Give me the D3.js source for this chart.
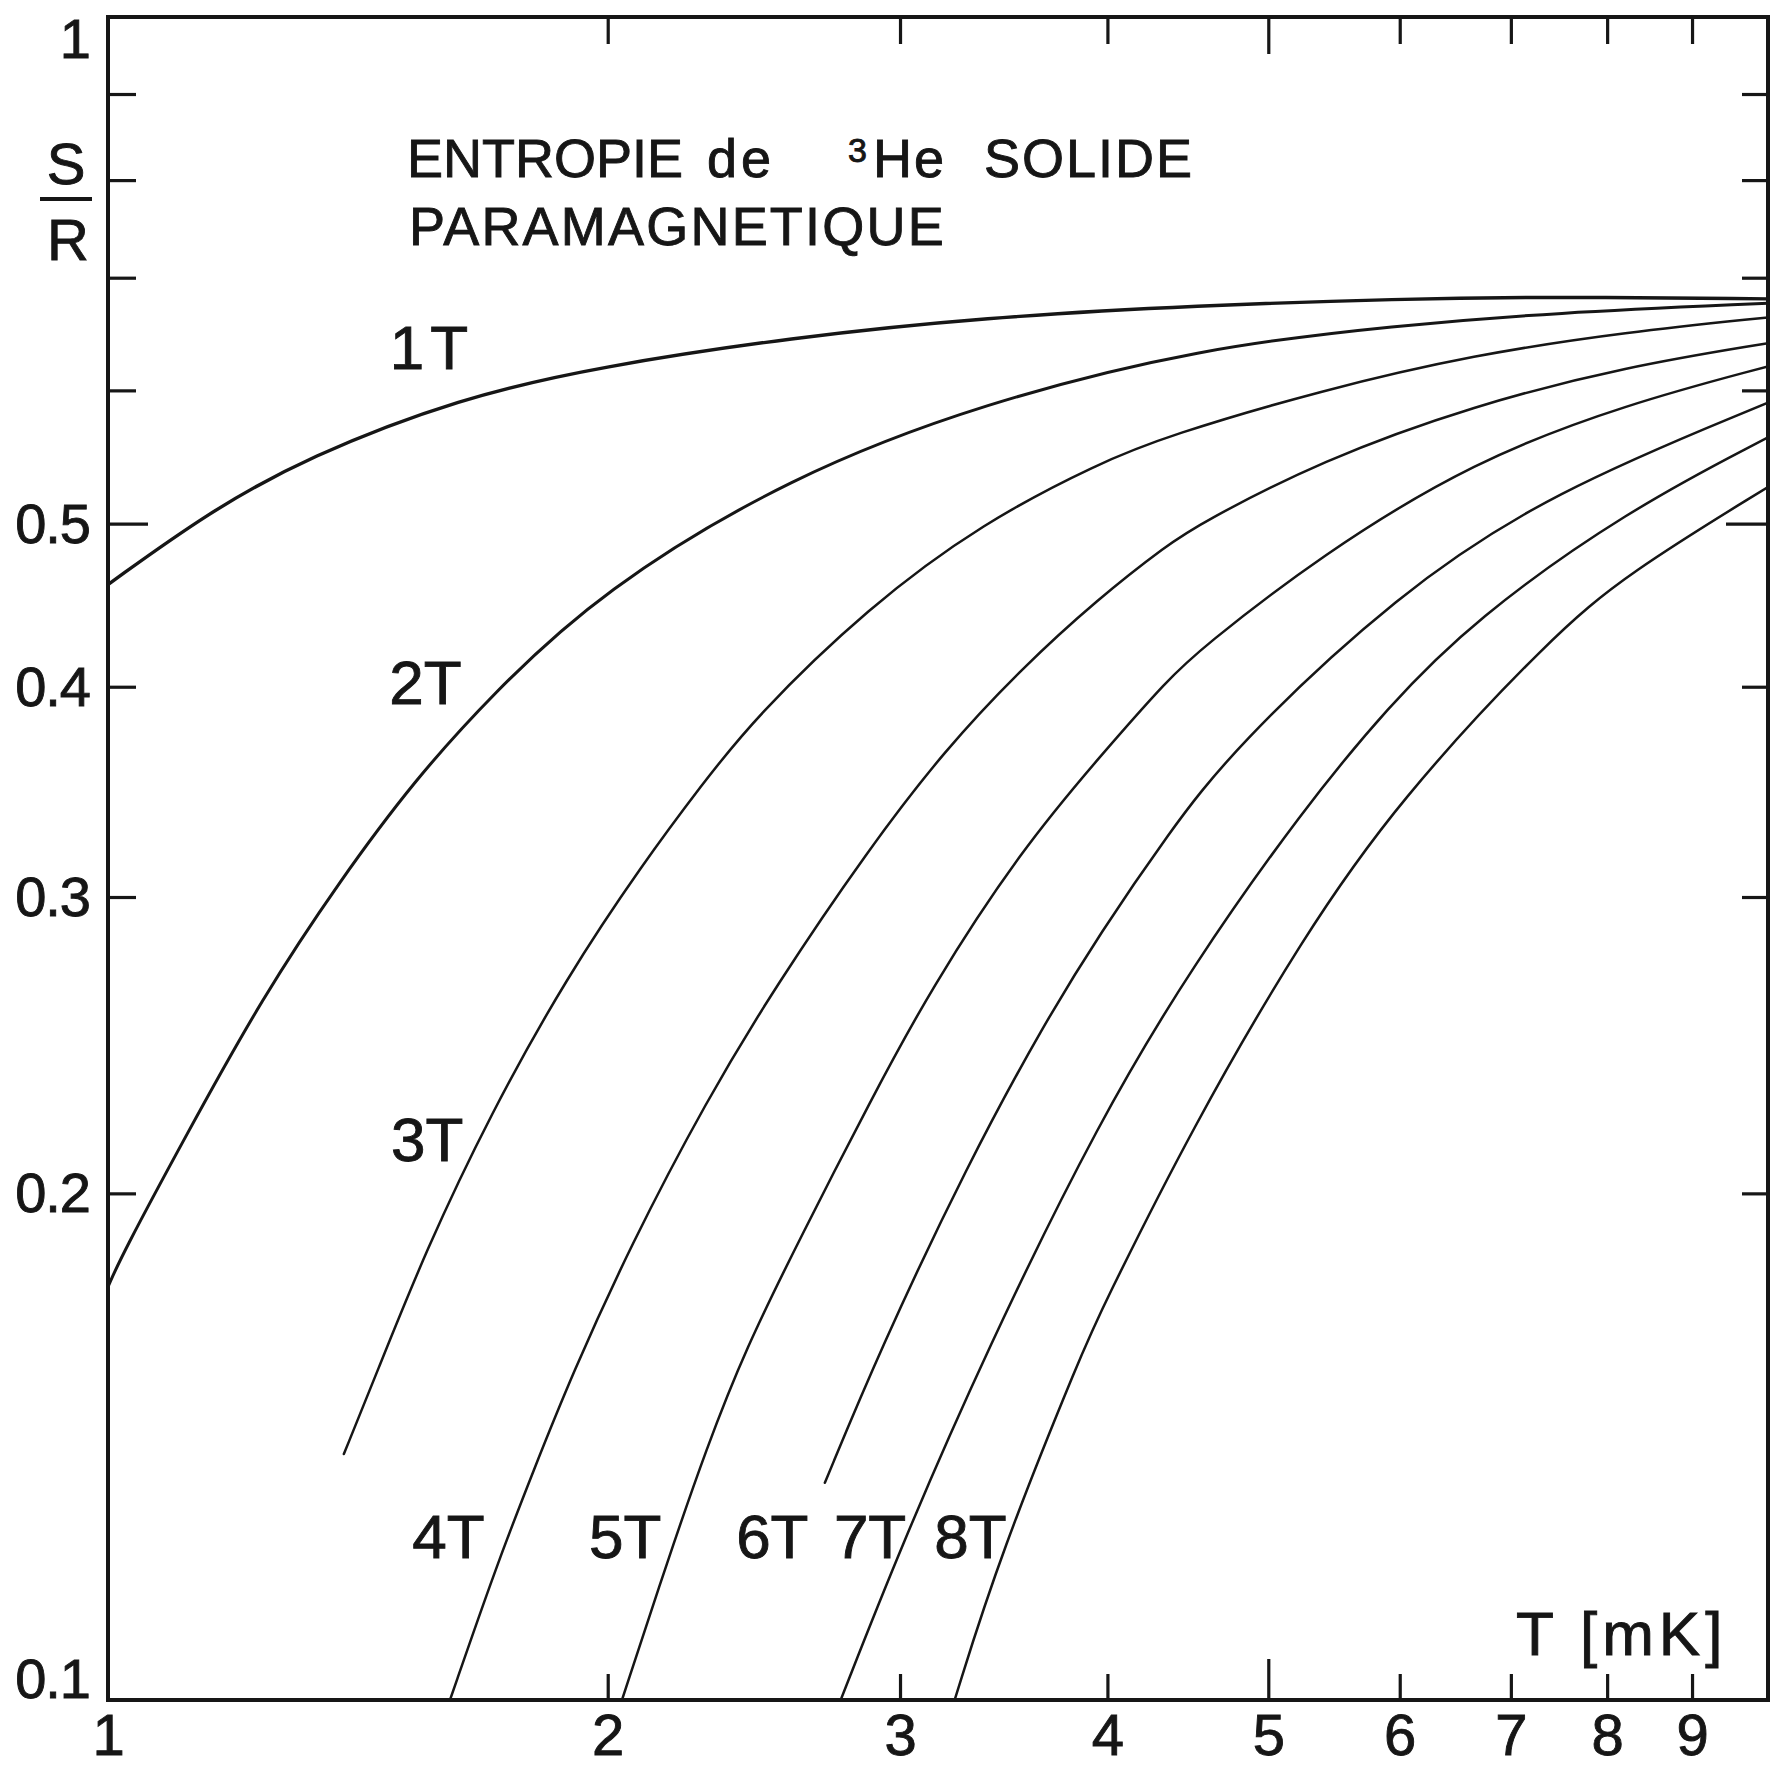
<!DOCTYPE html>
<html>
<head>
<meta charset="utf-8">
<script src="https://cdn.jsdelivr.net/npm/d3@7"></script>
<style>
  body { margin: 0; background: #fff; }
  svg { display: block; }
  text { font-family: "Liberation Sans", Arial, sans-serif; fill: #161616; stroke: #161616; stroke-width: 0.9px; }
</style>
</head>
<body>
<svg id="chart" width="1774" height="1769"></svg>
<script>
const ink = "#161616";

// S/R against T [mK], one list of [T, S/R] per field
const curve1T = [[1.00, 0.460], [1.15, 0.508], [1.32, 0.548], [1.63, 0.594], [1.98, 0.620], [2.58, 0.645],
  [3.37, 0.663], [4.55, 0.674], [6.00, 0.680], [7.40, 0.682], [10.0, 0.680]];
const curve2T = [[1.00, 0.176], [1.02, 0.184], [1.11, 0.215], [1.24, 0.262], [1.38, 0.307], [1.53, 0.352],
  [1.70, 0.395], [1.98, 0.456], [2.58, 0.534], [3.37, 0.590], [4.55, 0.636], [6.00, 0.656], [7.40, 0.667], [10.0, 0.676]];
const curve3T = [[1.387, 0.140], [1.45, 0.156], [1.554, 0.185], [1.70, 0.223], [1.89, 0.269], [2.10, 0.314],
  [2.28, 0.350], [2.45, 0.383], [2.87, 0.446], [3.37, 0.501], [3.95, 0.543], [4.35, 0.564], [5.38, 0.600],
  [6.65, 0.630], [8.23, 0.650], [10.0, 0.663]];
const curve4T = [[1.607, 0.100], [1.713, 0.120], [1.805, 0.137], [1.903, 0.156], [2.063, 0.186], [2.293, 0.227],
  [2.527, 0.266], [2.870, 0.320], [3.193, 0.367], [3.550, 0.410], [3.947, 0.451], [4.351, 0.486], [4.548, 0.500],
  [5.379, 0.545], [6.652, 0.588], [8.226, 0.620], [10.0, 0.640]];
const curve5T = [[2.040, 0.100], [2.175, 0.1213], [2.293, 0.141], [2.420, 0.1615], [2.618, 0.189], [2.881, 0.2272],
  [3.126, 0.264], [3.548, 0.320], [3.991, 0.367], [4.351, 0.404], [4.548, 0.421], [5.379, 0.479], [6.652, 0.545],
  [8.226, 0.589], [10.0, 0.620]];
const curve6T = [[2.703, 0.1346], [2.918, 0.1615], [3.297, 0.2084], [3.665, 0.2524], [3.960, 0.2855], [4.351, 0.327],
  [4.755, 0.367], [5.982, 0.4546], [7.401, 0.522], [10.0, 0.590]];
const curve7T = [[2.763, 0.100], [3.00, 0.123], [3.384, 0.1615], [3.96, 0.2215], [4.50, 0.273], [5.245, 0.338],
  [5.90, 0.389], [6.652, 0.4385], [8.226, 0.509], [10.0, 0.5626]];
const curve8T = [[3.236, 0.100], [3.446, 0.122], [3.868, 0.1615], [3.96, 0.170], [4.50, 0.219], [5.245, 0.284],
  [5.99, 0.3425], [7.401, 0.428], [8.226, 0.467], [10.0, 0.5257]];

const fieldLabels = ["1 T", "2T", "3T", "4T", "5T", "6T", "7T", "8T"];
// where each label starts, in chart units [T, S/R]
const labelAnchors = [[1.478, 0.618], [1.477, 0.3906], [1.481, 0.209], [1.525, 0.1215],
  [1.949, 0.1215], [2.390, 0.1215], [2.737, 0.1215], [3.146, 0.1215]];

const xTicks = [2, 3, 4, 5, 6, 7, 8, 9];
const xTickLabels = [1, 2, 3, 4, 5, 6, 7, 8, 9];
const yTicks = [0.2, 0.3, 0.4, 0.5, 0.6, 0.7, 0.8, 0.9];
const yTickLabels = [1, 0.5, 0.4, 0.3, 0.2, 0.1];

const curves = [curve1T, curve2T, curve3T, curve4T, curve5T, curve6T, curve7T, curve8T]
  .map((points, i) => ({ points, label: fieldLabels[i], at: labelAnchors[i] }));

const W = 1774, H = 1769;
const margin = { top: 17, right: 6, bottom: 69, left: 108 };

const svg = d3.select("#chart");

const x = d3.scaleLog().domain([1, 10]).range([margin.left, W - margin.right]);
const y = d3.scaleLog().domain([0.1, 1]).range([H - margin.bottom, margin.top]);

const [x0, x1] = x.range();
const [y0, y1] = y.range();

svg.append("defs").append("clipPath").attr("id", "plot-clip")
  .append("rect")
  .attr("x", x0).attr("y", y1)
  .attr("width", x1 - x0).attr("height", y0 - y1);

// Tick marks point inwards on all four sides, 5 and 0.5 are longer
const tickStyle = g => {
  g.select(".domain").remove();
  g.selectAll(".tick line").attr("stroke", ink).attr("stroke-width", 3.2);
};

svg.append("g")
  .attr("transform", `translate(0,${y0})`)
  .call(d3.axisTop(x).tickValues(xTicks).tickSize(26).tickFormat(""))
  .call(tickStyle)
  .selectAll(".tick line").attr("y2", d => d === 5 ? -41 : -26);

svg.append("g")
  .attr("transform", `translate(0,${y1})`)
  .call(d3.axisBottom(x).tickValues(xTicks).tickSize(27).tickFormat(""))
  .call(tickStyle)
  .selectAll(".tick line").attr("y2", d => d === 5 ? 37 : 27);

svg.append("g")
  .attr("transform", `translate(${x0},0)`)
  .call(d3.axisRight(y).tickValues(yTicks).tickSize(28).tickFormat(""))
  .call(tickStyle)
  .selectAll(".tick line").attr("x2", d => d === 0.5 ? 40 : 28);

svg.append("g")
  .attr("transform", `translate(${x1},0)`)
  .call(d3.axisLeft(y).tickValues(yTicks).tickSize(26).tickFormat(""))
  .call(tickStyle)
  .selectAll(".tick line").attr("x2", d => d === 0.5 ? -42 : -26);

// Tick labels
const xLab = svg.append("g")
  .attr("transform", `translate(0,${y0})`)
  .call(d3.axisBottom(x).tickValues(xTickLabels).tickSize(0).tickPadding(14).tickFormat(d3.format("d")));
xLab.select(".domain").remove();
xLab.attr("font-family", null).attr("font-size", null);
xLab.selectAll("text").style("font-size", "58px").attr("fill", ink);

const yLab = svg.append("g")
  .attr("transform", `translate(${x0},0)`)
  .call(d3.axisLeft(y).tickValues(yTickLabels).tickSize(0).tickPadding(18).tickFormat(d => String(d)));
yLab.select(".domain").remove();
yLab.attr("font-family", null).attr("font-size", null);
yLab.selectAll("text")
  .style("font-size", "56px")
  .style("letter-spacing", "-1px")
  .attr("fill", ink)
  .attr("dy", d => d === 1 ? "0.72em" : d === 0.1 ? "-0.05em" : "0.33em");

// S over R
const sr = svg.append("g").attr("text-anchor", "middle").style("font-size", "58px");
sr.append("text").attr("x", 66).attr("y", 184).text("S");
sr.append("text").attr("x", 68).attr("y", 260).text("R");
sr.append("line")
  .attr("x1", 40).attr("x2", 92).attr("y1", 199).attr("y2", 199)
  .attr("stroke", ink).attr("stroke-width", 4);

// Curves, smoothed through the read points
const line = d3.line()
  .x(d => x(d[0]))
  .y(d => y(d[1]))
  .curve(d3.curveBasis);

svg.append("g")
  .attr("clip-path", "url(#plot-clip)")
  .selectAll("path")
  .data(curves)
  .join("path")
  .attr("d", d => line(d.points))
  .attr("fill", "none")
  .attr("stroke", ink)
  .attr("stroke-width", (d, i) => i === 0 ? 3.4 : i === 1 ? 3 : 2.5)
  .attr("stroke-linecap", "round");

svg.append("g")
  .selectAll("text")
  .data(curves)
  .join("text")
  .attr("x", d => x(d.at[0]))
  .attr("y", d => y(d.at[1]))
  .style("font-size", "62px")
  .style("word-spacing", "-10px")
  .text(d => d.label);

// Frame
svg.append("rect")
  .attr("x", x0).attr("y", y1)
  .attr("width", x1 - x0).attr("height", y0 - y1)
  .attr("fill", "none")
  .attr("stroke", ink)
  .attr("stroke-width", 4);

// Axis title and heading
svg.append("text")
  .attr("x", x(7.05)).attr("y", y(0.1063))
  .style("font-size", "62px")
  .style("letter-spacing", "5px")
  .text("T [mK]");

const title = svg.append("text").style("font-size", "54px");
title.append("tspan").attr("x", 407).attr("y", 177).text("ENTROPIE");
title.append("tspan").attr("x", 707).attr("y", 177).style("letter-spacing", "4px").text("de");
title.append("tspan").attr("x", 848).attr("y", 162).style("font-size", "34px").text("3");
title.append("tspan").attr("x", 873).attr("y", 177).style("letter-spacing", "2px").text("He");
title.append("tspan").attr("x", 984).attr("y", 177).style("letter-spacing", "2px").text("SOLIDE");
title.append("tspan").attr("x", 409).attr("y", 245).style("letter-spacing", "2.2px").text("PARAMAGNETIQUE");
</script>
</body>
</html>
